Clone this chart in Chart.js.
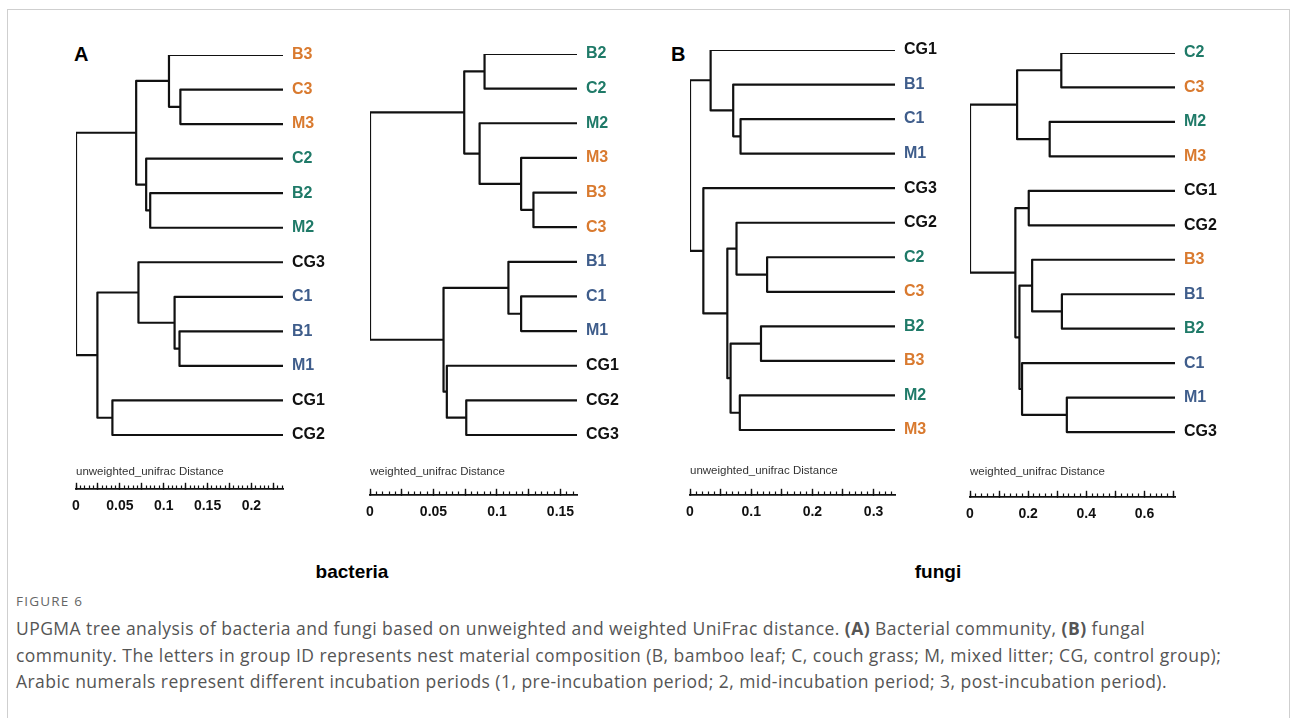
<!DOCTYPE html>
<html>
<head>
<meta charset="utf-8">
<script src="https://cdn.jsdelivr.net/npm/chart.js@4.4.1/dist/chart.umd.min.js"></script>
<style>
  body { margin:0; width:1292px; height:718px; background:#fff; position:relative; overflow:hidden; font-family:"Liberation Sans", Arial, sans-serif; }
  .frame { position:absolute; left:7px; top:9px; width:1281px; height:760px; border:1px solid #cfcfcf; border-bottom:none; }
  .panel { position:absolute; }
  .letter { position:absolute; font-weight:bold; font-size:20px; line-height:20px; color:#000; }
  .dist { position:absolute; font-size:11.5px; line-height:12px; color:#333; white-space:nowrap; }
  .group { position:absolute; font-weight:bold; font-size:19px; line-height:19px; color:#000; transform:translateX(-50%); }
  .fig { position:absolute; left:16px; top:592px; font-family:"Open Sans", sans-serif; font-size:13.5px; line-height:18px; letter-spacing:1.2px; color:#666; }
  .cap { position:absolute; left:16px; top:615px; font-family:"Open Sans", sans-serif; font-size:17.5px; line-height:26.5px; letter-spacing:0.45px; color:#555; white-space:nowrap; }
</style>
</head>
<body>
<div class="frame"></div>

<div class="letter" style="left:74px; top:44px;">A</div>
<div class="letter" style="left:671px; top:44px;">B</div>

<div class="panel" id="p1"><canvas id="bacUw"></canvas></div>
<div class="panel" id="p2"><canvas id="bacW"></canvas></div>
<div class="panel" id="p3"><canvas id="funUw"></canvas></div>
<div class="panel" id="p4"><canvas id="funW"></canvas></div>

<div class="dist" style="left:76px; top:465px;">unweighted_unifrac Distance</div>
<div class="dist" style="left:370px; top:465px;">weighted_unifrac Distance</div>
<div class="dist" style="left:690px; top:464px;">unweighted_unifrac Distance</div>
<div class="dist" style="left:970px; top:465px;">weighted_unifrac Distance</div>

<div class="group" style="left:352px; top:562px;">bacteria</div>
<div class="group" style="left:938px; top:562px;">fungi</div>

<div class="fig">FIGURE 6</div>
<div class="cap">UPGMA tree analysis of bacteria and fungi based on unweighted and weighted UniFrac distance. <b>(A)</b> Bacterial community, <b>(B)</b> fungal<br>community. The letters in group ID represents nest material composition (B, bamboo leaf; C, couch grass; M, mixed litter; CG, control group);<br>Arabic numerals represent different incubation periods (1, pre-incubation period; 2, mid-incubation period; 3, post-incubation period).</div>

<script>
// group colours: incubation period 1 / 2 / 3, control group
const colors = { '1': '#3f5d8b', '2': '#1f7a68', '3': '#d97a2f', CG: '#111111' };

// bacteria, unweighted UniFrac
const bacUwLeaves = ['B3', 'C3', 'M3', 'C2', 'B2', 'M2', 'CG3', 'C1', 'B1', 'M1', 'CG1', 'CG2'];
const bacUwJoins = [[1, 2], [0, 12], [4, 5], [3, 14], [13, 15], [8, 9], [7, 17], [6, 18], [10, 11], [19, 20], [16, 21]];
const bacUwDist = [0.119, 0.106, 0.0846, 0.080, 0.0686, 0.118, 0.1124, 0.0712, 0.0415, 0.0244, 0];
const bacUwMax = 0.236;
const bacUwTicks = [0, 0.05, 0.1, 0.15, 0.2];

// bacteria, weighted UniFrac
const bacWLeaves = ['B2', 'C2', 'M2', 'M3', 'B3', 'C3', 'B1', 'C1', 'M1', 'CG1', 'CG2', 'CG3'];
const bacWJoins = [[0, 1], [4, 5], [3, 13], [2, 14], [12, 15], [7, 8], [6, 17], [10, 11], [9, 19], [18, 20], [16, 21]];
const bacWDist = [0.0902, 0.1287, 0.119, 0.0863, 0.0742, 0.119, 0.109, 0.0758, 0.0605, 0.0579, 0];
const bacWMax = 0.163;
const bacWTicks = [0, 0.05, 0.1, 0.15];

// fungi, unweighted UniFrac
const funUwLeaves = ['CG1', 'B1', 'C1', 'M1', 'CG3', 'CG2', 'C2', 'C3', 'B2', 'B3', 'M2', 'M3'];
const funUwJoins = [[2, 3], [1, 12], [0, 13], [6, 7], [5, 15], [8, 9], [10, 11], [17, 18], [16, 19], [4, 20], [14, 21]];
const funUwDist = [0.0826, 0.0706, 0.0337, 0.126, 0.076, 0.116, 0.0814, 0.0663, 0.061, 0.0218, 0];
const funUwMax = 0.335;
const funUwTicks = [0, 0.1, 0.2, 0.3];

// fungi, weighted UniFrac
const funWLeaves = ['C2', 'C3', 'M2', 'M3', 'CG1', 'CG2', 'B3', 'B1', 'B2', 'C1', 'M1', 'CG3'];
const funWJoins = [[0, 1], [2, 3], [12, 13], [4, 5], [7, 8], [6, 16], [10, 11], [9, 18], [17, 19], [15, 20], [14, 21]];
const funWDist = [0.314, 0.274, 0.162, 0.202, 0.316, 0.2137, 0.333, 0.179, 0.170, 0.156, 0];
const funWMax = 0.705;
const funWTicks = [0, 0.2, 0.4, 0.6];

const colorOf = lab => lab.startsWith('CG') ? colors.CG : colors[lab.slice(-1)];

// one polyline with gaps: each join draws child -> node -> node -> child
function treeLines(leaves, joins, dist, maxD) {
  const nx = leaves.map(() => maxD);
  const ny = leaves.map((l, i) => i);
  const pts = [];
  joins.forEach(([a, b], k) => {
    const x = dist[k];
    pts.push({x: nx[a], y: ny[a]}, {x: x, y: ny[a]}, {x: x, y: ny[b]}, {x: nx[b], y: ny[b]}, {x: null, y: null});
    nx.push(x);
    ny.push((ny[a] + ny[b]) / 2);
  });
  return pts;
}

function drawTree(boxId, canvasId, leaves, joins, dist, maxD, tickLabels, major, minor, g) {
  const padL = 24, padT = 20, padB = 34, axisW = 60;
  const yMax = 11 * (g.bar - g.y0) / (g.y11 - g.y0);
  const w = g.end - g.root + padL + axisW;
  const h = g.bar - g.y0 + padT + padB;
  const box = document.getElementById(boxId);
  box.style.left = (g.root - padL) + 'px';
  box.style.top = (g.y0 - padT) + 'px';
  const cv = document.getElementById(canvasId);
  cv.width = w; cv.height = h;
  cv.style.width = w + 'px'; cv.style.height = h + 'px';

  return new Chart(cv, {
    type: 'scatter',
    data: {
      datasets: [{
        data: treeLines(leaves, joins, dist, maxD),
        showLine: true,
        borderColor: '#111',
        borderWidth: 2.2,
        pointRadius: 0,
        pointHoverRadius: 0,
        borderJoinStyle: 'round'
      }]
    },
    options: {
      responsive: false,
      animation: false,
      events: [],
      layout: { padding: { left: padL, top: padT, bottom: padB, right: 0 } },
      plugins: { legend: { display: false }, tooltip: { enabled: false } },
      scales: {
        x: {
          type: 'linear', min: 0, max: maxD, position: { y: yMax },
          border: { display: true, color: '#111', width: 1.8 },
          grid: { display: true, drawOnChartArea: false, drawTicks: true, tickLength: -7, tickColor: '#111', tickWidth: 1.4 },
          ticks: {
            stepSize: major, autoSkip: false, maxRotation: 0, includeBounds: false,
            padding: 16, color: '#111',
            font: { family: '"Liberation Sans", Arial, sans-serif', weight: 'bold', size: 14 },
            callback: v => {
              const t = tickLabels.find(t => Math.abs(t - v) < 1e-9);
              return t === undefined ? '' : String(t);
            }
          }
        },
        xm: {
          axis: 'x', type: 'linear', min: 0, max: maxD, position: { y: yMax },
          border: { display: false },
          grid: { display: true, drawOnChartArea: false, drawTicks: true, tickLength: -3.5, tickColor: '#111', tickWidth: 1.2 },
          ticks: { stepSize: minor, autoSkip: false, includeBounds: false, display: false }
        },
        y: {
          type: 'linear', position: 'right', reverse: true, min: 0, max: yMax,
          border: { display: false },
          grid: { display: false, drawTicks: false },
          afterBuildTicks: s => { s.ticks = leaves.map((l, i) => ({ value: i })); },
          afterFit: s => { s.width = axisW; },
          ticks: {
            autoSkip: false, padding: 9,
            font: { family: '"Liberation Sans", Arial, sans-serif', weight: 'bold', size: 16 },
            color: ctx => ctx.tick ? colorOf(leaves[ctx.tick.value]) : '#111',
            callback: v => leaves[v] || ''
          }
        }
      }
    }
  });
}

drawTree('p1', 'bacUw', bacUwLeaves, bacUwJoins, bacUwDist, bacUwMax, bacUwTicks, 0.025, 0.005,
  { root: 76, end: 283, y0: 55, y11: 435, bar: 489 });
drawTree('p2', 'bacW', bacWLeaves, bacWJoins, bacWDist, bacWMax, bacWTicks, 0.025, 0.005,
  { root: 370, end: 577, y0: 54, y11: 435, bar: 495 });
drawTree('p3', 'funUw', funUwLeaves, funUwJoins, funUwDist, funUwMax, funUwTicks, 0.05, 0.01,
  { root: 690, end: 895, y0: 50, y11: 430, bar: 495 });
drawTree('p4', 'funW', funWLeaves, funWJoins, funWDist, funWMax, funWTicks, 0.1, 0.02,
  { root: 970, end: 1175, y0: 52.5, y11: 432, bar: 497 });
</script>
</body>
</html>
